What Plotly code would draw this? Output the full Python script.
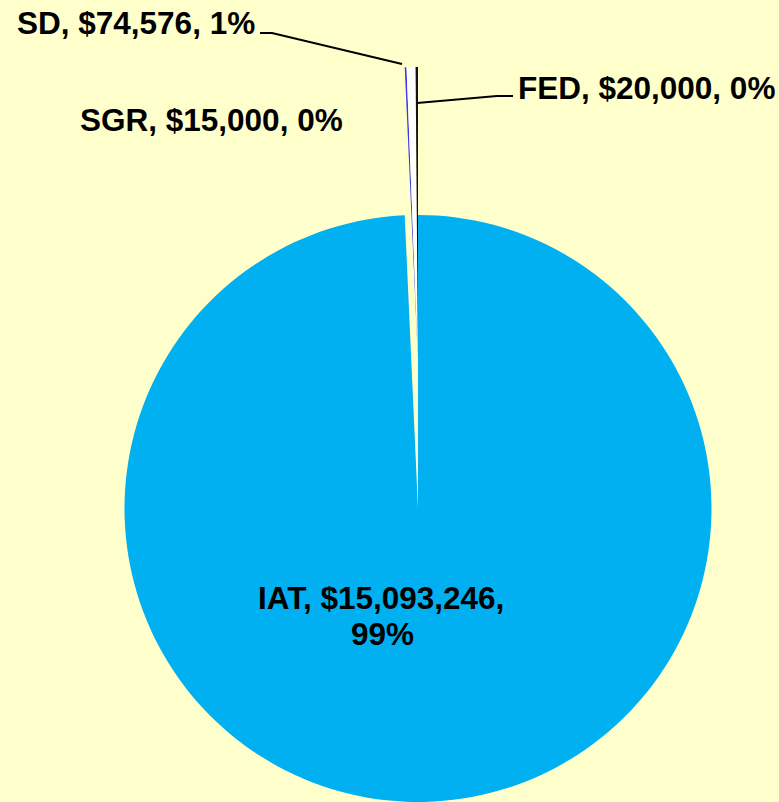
import plotly.graph_objects as go

# Data (clockwise from 12 o'clock)
categories = ["IAT", "SGR", "SD", "FED"]
values = [15093246, 15000, 74576, 20000]
pct_labels = ["99%", "0%", "1%", "0%"]
colors = ["#00B0F0", "#3B3BE8", "#FFFFFF", "#111111"]

W, H = 779, 802
TRANSP = "rgba(0,0,0,0)"


def px(x):
    return x / W


def py(y):
    return 1 - y / H


def money(v):
    return "${:,}".format(v)


labels_text = [f"{c}, {money(v)}, {p}" for c, v, p in zip(categories, values, pct_labels)]

fig = go.Figure()

# Main (large) slice, not pulled
fig.add_trace(go.Pie(
    labels=categories, values=values, sort=False, direction="clockwise", rotation=0,
    marker=dict(colors=[colors[0], TRANSP, TRANSP, TRANSP], line=dict(width=0)),
    textinfo="none", hoverinfo="skip", showlegend=False,
    domain=dict(x=[px(124.5), px(711.5)], y=[py(802), py(215)]),
))

# Small slices, exploded upward
fig.add_trace(go.Pie(
    labels=categories, values=values, sort=False, direction="clockwise", rotation=0,
    marker=dict(colors=[TRANSP] + colors[1:], line=dict(width=0)),
    textinfo="none", hoverinfo="skip", showlegend=False,
    domain=dict(x=[px(124.5), px(711.5)], y=[py(654), py(67)]),
))

font = dict(family="Liberation Sans, Arial, sans-serif", size=31.5, color="#000000", weight="bold")

ann = []
# SD
ann.append(dict(x=px(136), y=py(23), text=labels_text[2]))
# FED
ann.append(dict(x=px(646), y=py(88), text=labels_text[3]))
# SGR
ann.append(dict(x=px(211.5), y=py(120), text=labels_text[1]))
# IAT (two lines)
iat_line1 = f"{categories[0]}, {money(values[0])},"
ann.append(dict(x=px(381), y=py(598), text=iat_line1))
ann.append(dict(x=px(382), y=py(634), text=pct_labels[0]))

annotations = [dict(a, xref="paper", yref="paper", showarrow=False, font=font,
                    xanchor="center", yanchor="middle") for a in ann]

line = dict(color="#000000", width=2)
shapes = [
    dict(type="path", xref="paper", yref="paper",
         path=f"M {px(260)} {py(33)} L {px(272)} {py(33)} L {px(402)} {py(64)}", line=line),
    dict(type="path", xref="paper", yref="paper",
         path=f"M {px(417)} {py(103)} L {px(497)} {py(96)} L {px(513)} {py(96)}", line=line),
]

fig.update_layout(
    width=W, height=H,
    margin=dict(l=0, r=0, t=0, b=0),
    paper_bgcolor="#FFFFCC", plot_bgcolor="#FFFFCC",
    annotations=annotations, shapes=shapes,
)

fig.write_html(
    "out.html",
    config={"displayModeBar": False},
    post_script="document.body.style.margin='0';document.body.style.overflow='hidden';"
                "document.body.style.background='#FFFFCC';",
)
